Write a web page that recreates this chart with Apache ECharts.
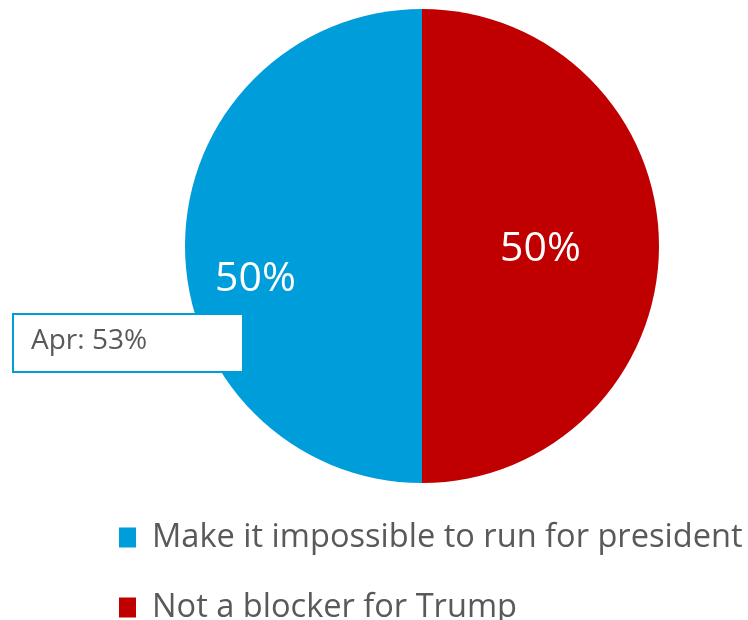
<!DOCTYPE html>
<html><head><meta charset="utf-8">
<script src="https://cdn.jsdelivr.net/npm/echarts@6/dist/echarts.min.js"></script>
<style>html,body{margin:0;padding:0;background:#fff}#c{width:748px;height:620px}</style>
</head><body><div id="c"></div>
<script>
const categories = ["Make it impossible to run for president", "Not a blocker for Trump"];
const values = [50, 50];
const colors = ["#009DDB", "#C00000"];
const annotation = "Apr: 53%";

const legendTops = [516, 586];
const chart = echarts.init(document.getElementById('c'));
chart.setOption({
  animation: false,
  legend: categories.map((n, i) => ({
    orient: 'vertical', left: 114, top: legendTops[i],
    itemWidth: 17, itemHeight: 20, itemGap: 6,
    icon: 'rect',
    textStyle: { fontFamily: 'Open Sans', fontSize: 32.6, color: '#595959', padding: [0, 0, 0, 11] },
    data: [n]
  })),
  series: [{
    type: 'pie',
    center: [422, 246], radius: 237,
    startAngle: 90, clockwise: false,
    labelLine: { show: false },
    label: { show: true, position: 'inside', formatter: '{c}%', color: '#fff', fontFamily: 'Open Sans', fontSize: 41 },
    itemStyle: { borderWidth: 0 },
    emphasis: { disabled: true },
    data: categories.map((n, i) => ({
      name: n, value: values[i], itemStyle: { color: colors[i] },
      label: i === 0 ? { offset: [-45, 33] } : { offset: [-3, 3] }
    }))
  }],
  graphic: [{
    type: 'rect', left: 12, top: 313, z: 10,
    shape: { width: 230, height: 58 },
    style: { fill: '#fff', stroke: '#009DDB', lineWidth: 2 }
  }, {
    type: 'text', left: 31, top: 327, z: 11,
    style: { text: annotation, fill: '#595959', font: '28px "Open Sans"' }
  }]
});
</script></body></html>
